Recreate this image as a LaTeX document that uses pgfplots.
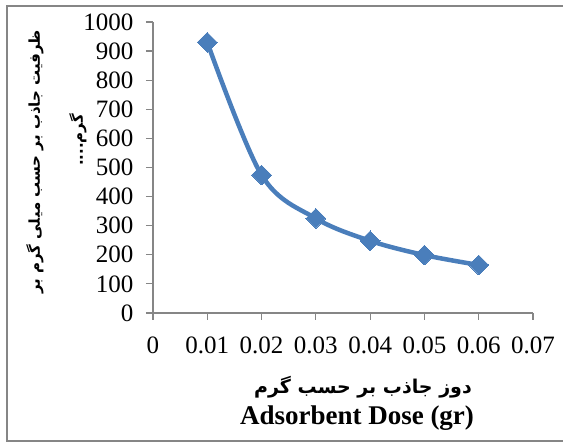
\documentclass[border=0pt]{standalone}
\usepackage{fontspec}
\setmainfont{Liberation Serif}
\newfontfamily\arabicfont[Script=Arabic]{DejaVu Sans}
\usepackage{pgfplots}
\pgfplotsset{compat=1.18}
\TeXXeTstate=1
\definecolor{series}{HTML}{4A7EBB}
\definecolor{axisgray}{HTML}{868686}
\begin{document}
\begin{tikzpicture}[x=1pt,y=1pt]
\useasboundingbox (0,0) rectangle (563,443);
\draw[axisgray, line width=1.5pt] (566,437) -- (7,437) -- (7,2) -- (566,2);
\begin{axis}[
  at={(153pt,130pt)}, anchor=south west,
  scale only axis, width=380pt, height=291pt,
  xmin=0, xmax=0.07, ymin=0, ymax=1000,
  scaled x ticks=false, scaled y ticks=false,
  xtick={0,0.01,0.02,0.03,0.04,0.05,0.06,0.07},
  xticklabels={0,0.01,0.02,0.03,0.04,0.05,0.06,0.07},
  ytick={0,100,200,300,400,500,600,700,800,900,1000},
  yticklabels={0,100,200,300,400,500,600,700,800,900,1000},
  /pgf/number format/assume math mode=true,
  axis x line*=bottom, axis y line*=left,
  axis line style={axisgray, line width=1.2pt},
  tick style={axisgray, line width=1.2pt},
  tick align=outside, major tick length=7pt,
  ticklabel style={font=\fontsize{25}{27}\selectfont},
  xticklabel style={yshift=-13pt},
  yticklabel style={xshift=-9pt},
  clip=false,
]
\addplot[series, line width=4.5pt, smooth, tension=0.55,
  mark=square*, mark size=7pt, mark options={rotate=45, fill=series, draw=series, line width=0pt}]
  coordinates {(0.01,930) (0.02,474) (0.03,325) (0.04,248) (0.05,199) (0.06,165)};
\end{axis}
\node[font=\fontsize{27}{30}\selectfont\bfseries] at (357,25) {Adsorbent Dose (gr)};
\node[font=\arabicfont\fontsize{19}{22}\selectfont\bfseries] at (363,56) {\beginR دوز جاذب بر حسب گرم\endR};
\node[rotate=90, font=\arabicfont\fontsize{15}{18}\selectfont\bfseries] at (35,281) {\beginR ظرفیت جاذب بر حسب میلی گرم بر\endR};
\node[rotate=90, font=\arabicfont\fontsize{15}{18}\selectfont\bfseries] at (78,303) {\beginR گرم....\endR};
\end{tikzpicture}
\end{document}
